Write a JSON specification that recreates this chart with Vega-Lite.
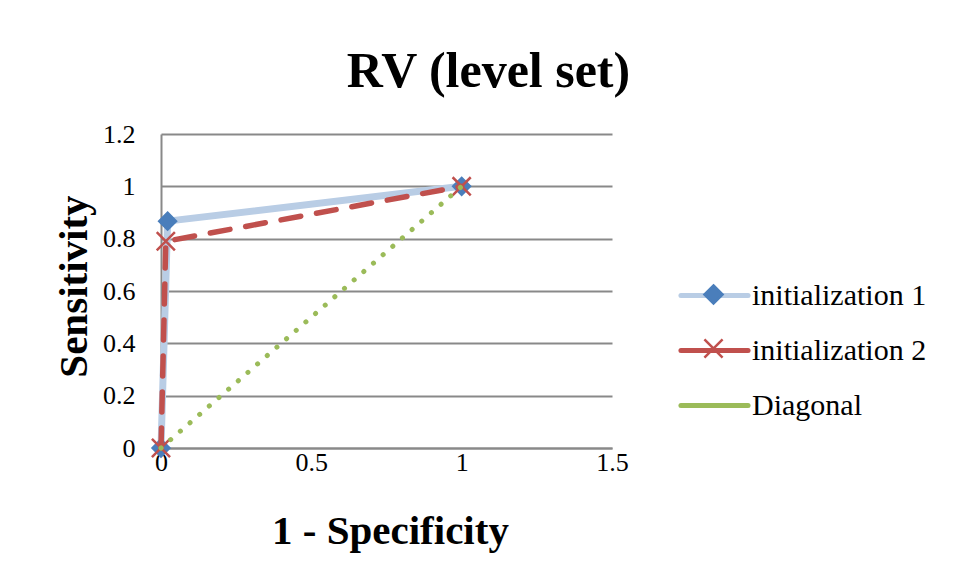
{
  "$schema": "https://vega.github.io/schema/vega-lite/v6.json",
  "width": 451,
  "height": 314,
  "autosize": {"type": "none"},
  "padding": {"left": 161, "top": 134, "right": 346, "bottom": 133},
  "background": "white",
  "title": {
    "text": "RV (level set)",
    "font": "Liberation Serif",
    "fontSize": 50,
    "fontWeight": "bold",
    "color": "black",
    "anchor": "middle",
    "dx": 102,
    "dy": 51,
    "baseline": "alphabetic",
    "offset": 35
  },
  "data": {
    "values": [
      {"series": "initialization 1", "x": 0, "y": 0},
      {"series": "initialization 1", "x": 0.022, "y": 0.867},
      {"series": "initialization 1", "x": 1, "y": 1},
      {"series": "initialization 2", "x": 0, "y": 0},
      {"series": "initialization 2", "x": 0.016, "y": 0.79},
      {"series": "initialization 2", "x": 1, "y": 1},
      {"series": "Diagonal", "x": 0, "y": 0},
      {"series": "Diagonal", "x": 1, "y": 1}
    ]
  },
  "encoding": {
    "x": {
      "field": "x",
      "type": "quantitative",
      "scale": {"domain": [0, 1.5], "nice": false, "zero": false},
      "axis": {
        "values": [0, 0.5, 1, 1.5],
        "format": "~g",
        "title": "1 - Specificity",
        "grid": false,
        "labelFlush": false,
        "labelPadding": 1,
        "titleX": 229,
        "titleY": 95,
        "titleBaseline": "alphabetic"
      }
    },
    "y": {
      "field": "y",
      "type": "quantitative",
      "scale": {"domain": [0, 1.2], "nice": false},
      "axis": {
        "values": [0, 0.2, 0.4, 0.6, 0.8, 1, 1.2],
        "format": "~g",
        "title": "Sensitivity",
        "grid": true,
        "labelFlush": false,
        "labelPadding": 26,
        "titleAngle": -90,
        "titleX": -75,
        "titleY": 152,
        "titleAlign": "center",
        "titleBaseline": "alphabetic"
      }
    }
  },
  "layer": [
    {
      "transform": [{"filter": "datum.series === 'initialization 1'"}],
      "mark": {"type": "line", "strokeWidth": 7, "strokeCap": "round", "strokeJoin": "round"},
      "encoding": {
        "color": {
          "field": "series",
          "type": "nominal",
          "scale": {
            "domain": ["initialization 1", "initialization 2", "Diagonal"],
            "range": ["#B9CDE5", "#C0504D", "#9BBB59"]
          },
          "legend": {
            "title": null,
            "orient": "none",
            "legendX": 523.5,
            "legendY": 131.5,
            "padding": 0,
            "rowPadding": 10,
            "symbolType": "M-1.22,0L1.22,0",
            "symbolSize": 3025,
            "symbolStrokeWidth": 5,
            "labelFont": "Liberation Serif",
            "labelFontSize": 30,
            "labelColor": "black",
            "labelLimit": 400,
            "labelOffset": 7.5,
            "zindex": 0,
            "encode": {
              "symbols": {
                "update": {
                  "strokeDash": {"value": []},
                  "strokeCap": {"value": "round"},
                  "fill": {"value": "transparent"}
                }
              }
            }
          }
        }
      }
    },
    {
      "transform": [{"filter": "datum.series === 'initialization 1'"}],
      "mark": {"type": "point", "filled": true, "size": 3025, "strokeWidth": 1.5, "opacity": 1},
      "encoding": {
        "shape": {
          "field": "series",
          "type": "nominal",
          "scale": {
            "domain": ["initialization 1", "initialization 2"],
            "range": ["M0,-0.33L0.33,0L0,0.33L-0.33,0Z", "M-0.33,-0.33L0.33,0.33M-0.33,0.33L0.33,-0.33"]
          },
          "legend": {
            "title": null,
            "orient": "none",
            "legendX": 523.5,
            "legendY": 131.5,
            "padding": 0,
            "rowPadding": 10,
            "symbolSize": 3025,
            "symbolStrokeWidth": 2.5,
            "labelFont": "Liberation Serif",
            "labelFontSize": 30,
            "labelLimit": 400,
            "labelOpacity": 0,
            "labelExpr": "' '",
            "labelOffset": 7.5,
            "zindex": 1
          }
        },
        "fill": {
          "field": "series",
          "type": "nominal",
          "scale": {"domain": ["initialization 1", "initialization 2"], "range": ["#4A7EBB", "#C0504D"]}
        },
        "stroke": {
          "field": "series",
          "type": "nominal",
          "scale": {"domain": ["initialization 1", "initialization 2"], "range": ["#4A7EBB", "#C0504D"]}
        }
      }
    },
    {
      "transform": [{"filter": "datum.series === 'initialization 2'"}],
      "mark": {"type": "line", "strokeWidth": 5.5, "strokeCap": "round", "strokeJoin": "round", "strokeDash": [20, 16]},
      "encoding": {
        "color": {
          "field": "series",
          "type": "nominal",
          "scale": {
            "domain": ["initialization 1", "initialization 2", "Diagonal"],
            "range": ["#B9CDE5", "#C0504D", "#9BBB59"]
          }
        }
      }
    },
    {
      "transform": [{"filter": "datum.series === 'initialization 2'"}],
      "mark": {"type": "point", "filled": true, "size": 3025, "strokeWidth": 2.5, "opacity": 1},
      "encoding": {
        "shape": {"field": "series", "type": "nominal"},
        "fill": {"field": "series", "type": "nominal"},
        "stroke": {"field": "series", "type": "nominal"}
      }
    },
    {
      "transform": [{"filter": "datum.series === 'Diagonal'"}],
      "mark": {"type": "line", "strokeWidth": 5, "strokeCap": "round", "strokeDash": [0.1, 12.7]},
      "encoding": {
        "color": {
          "field": "series",
          "type": "nominal",
          "scale": {
            "domain": ["initialization 1", "initialization 2", "Diagonal"],
            "range": ["#B9CDE5", "#C0504D", "#9BBB59"]
          }
        }
      }
    }
  ],
  "config": {
    "view": {"stroke": null},
    "axis": {
      "domainColor": "#898989",
      "domainWidth": 2,
      "ticks": false,
      "tickSize": 0,
      "gridColor": "#898989",
      "gridWidth": 2,
      "labelFont": "Liberation Serif",
      "labelFontSize": 26,
      "labelColor": "black",
      "titleFont": "Liberation Serif",
      "titleFontSize": 41,
      "titleFontWeight": "bold",
      "titleColor": "black"
    }
  }
}
